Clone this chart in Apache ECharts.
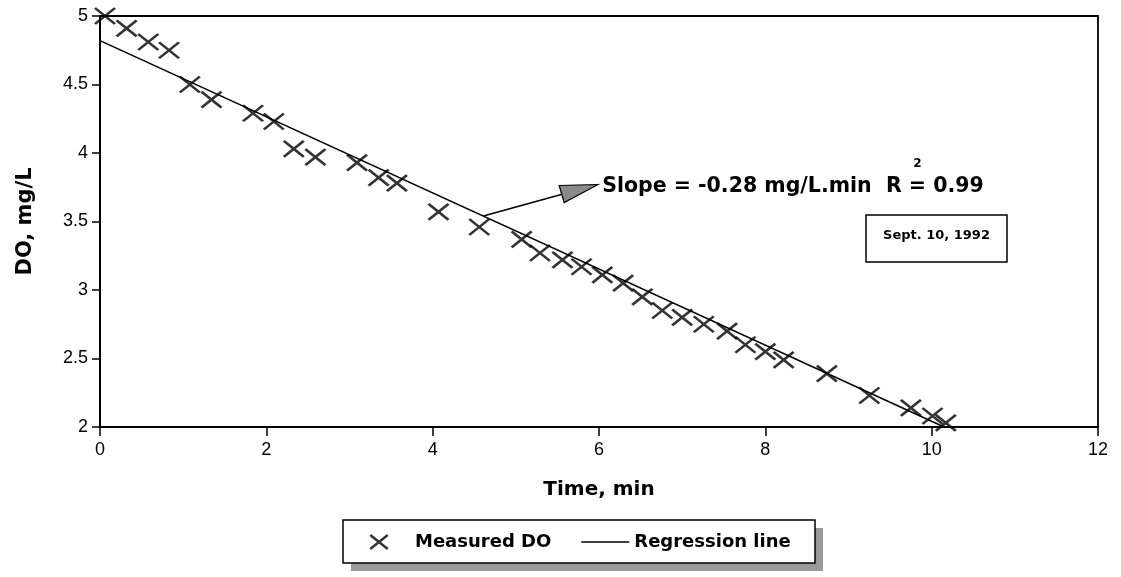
<!DOCTYPE html>
<html>
<head>
<meta charset="utf-8">
<script src="https://cdn.jsdelivr.net/npm/echarts@6/dist/echarts.min.js"></script>
<style>
  html, body { margin: 0; padding: 0; background: #fff; }
  #chart { width: 1121px; height: 577px; }
</style>
</head>
<body>
<div id="chart"></div>
<script>
// measured dissolved oxygen, Sept. 10, 1992
const timeMin = [0.06, 0.32, 0.58, 0.83, 1.08, 1.34, 1.84, 2.09, 2.33, 2.59, 3.09, 3.35, 3.57,
  4.07, 4.56, 5.07, 5.29, 5.56, 5.79, 6.04, 6.29, 6.52, 6.76, 7.0, 7.26, 7.54, 7.76, 8.0,
  8.22, 8.74, 9.25, 9.75, 10.01, 10.17];
const measuredDO = [5.0, 4.91, 4.81, 4.75, 4.5, 4.39, 4.29, 4.23, 4.03, 3.97, 3.93, 3.82, 3.78,
  3.57, 3.46, 3.37, 3.27, 3.22, 3.17, 3.11, 3.05, 2.95, 2.85, 2.8, 2.75, 2.7, 2.6, 2.55,
  2.49, 2.39, 2.23, 2.14, 2.08, 2.03];
// regression line end points
const regTime = [0, 10.15];
const regDO = [4.82, 2.0];

const chart = echarts.init(document.getElementById('chart'));
const FONT = '"DejaVu Sans", sans-serif';
const crossPath = 'path://M0,0L20,16M20,0L0,16';
const linePath = 'path://M0,0L48,0L48,1.5L0,1.5Z';

const option = {
  animation: false,
  grid: {
    left: 100, right: 23, top: 16, bottom: 150,
    show: true, borderColor: '#000', borderWidth: 1.8
  },
  xAxis: {
    type: 'value', min: 0, max: 12, interval: 2,
    name: 'Time, min', nameLocation: 'middle', nameGap: 53,
    nameTextStyle: { fontFamily: FONT, fontWeight: 'bold', fontSize: 20, color: '#000' },
    axisLine: { lineStyle: { color: '#000', width: 2 } },
    axisTick: { length: 9, lineStyle: { color: '#000', width: 1.5 } },
    axisLabel: { margin: 14, fontFamily: '"Liberation Sans", Arial', fontSize: 18, color: '#000' },
    splitLine: { show: false }
  },
  yAxis: {
    type: 'value', min: 2, max: 5, interval: 0.5,
    name: 'DO, mg/L', nameLocation: 'middle', nameGap: 64,
    nameTextStyle: { fontFamily: FONT, fontWeight: 'bold', fontSize: 21, color: '#000' },
    axisLine: { lineStyle: { color: '#000', width: 2 } },
    axisTick: { length: 8, lineStyle: { color: '#000', width: 1.5 } },
    axisLabel: { margin: 12, fontFamily: '"Liberation Sans", Arial', fontSize: 18, color: '#000' },
    splitLine: { show: false }
  },
  legend: {
    left: 343, top: 520,
    orient: 'horizontal',
    padding: [13, 20, 12, 26],
    itemGap: 30, itemWidth: 48, itemHeight: 14,
    textStyle: {
      fontFamily: FONT, fontWeight: 'bold', fontSize: 18, color: '#000',
      rich: { gap: { width: 7 } }
    },
    formatter: name => (name === 'Measured DO' ? '{gap|}' : '') + name,
    data: [
      { name: 'Measured DO', icon: crossPath,
        itemStyle: { color: 'transparent', borderColor: '#000', borderWidth: 2.5 } },
      { name: 'Regression line', icon: linePath,
        itemStyle: { color: '#000', borderWidth: 0 } }
    ]
  },
  series: [
    {
      name: 'Measured DO', type: 'scatter',
      symbol: crossPath, symbolSize: [20, 16], symbolKeepAspect: false,
      itemStyle: { color: 'transparent', borderColor: '#000', borderWidth: 2.6 },
      data: timeMin.map((t, i) => [t, measuredDO[i]]),
      z: 3
    },
    {
      name: 'Regression line', type: 'line',
      symbol: 'none',
      itemStyle: { color: '#000' },
      lineStyle: { color: '#000', width: 1.5 },
      data: regTime.map((t, i) => [t, regDO[i]]),
      z: 2
    }
  ]
};
chart.setOption(option);

// annotation: arrow + slope text, date box, legend frame with shadow
const ctx = document.createElement('canvas').getContext('2d');
const annFont = 'bold 20.5px "DejaVu Sans"';
ctx.font = annFont;
const tip = chart.convertToPixel({ gridIndex: 0 }, [5.99, 3.77]);
const foot = chart.convertToPixel({ gridIndex: 0 }, [4.61, 3.54]);
const s1 = 'Slope = -0.28 mg/L.min  R ';
const textX = tip[0] + 4;
const supX = textX + ctx.measureText(s1).width + ctx.measureText('=').width / 2;

chart.setOption({
  graphic: [
    { type: 'rect', z: -2, shape: { x: 351, y: 528, width: 472, height: 43 },
      style: { fill: '#9a9a9a' } },
    { type: 'rect', z: -1, shape: { x: 343, y: 520, width: 472, height: 43 },
      style: { fill: '#fff', stroke: '#000', lineWidth: 1.5 } },
    { type: 'line', shape: { x1: foot[0], y1: foot[1], x2: tip[0] - 37, y2: tip[1] + 10 },
      style: { stroke: '#000', lineWidth: 1.5 } },
    { type: 'polygon',
      shape: { points: [[tip[0], tip[1]], [tip[0] - 39, tip[1] + 1], [tip[0] - 34, tip[1] + 18]] },
      style: { fill: '#8a8a8a', stroke: '#000', lineWidth: 1.2 } },
    { type: 'text', x: textX, y: tip[1] + 2,
      style: { text: s1 + '= 0.99', font: annFont, fill: '#000', textVerticalAlign: 'middle' } },
    { type: 'text', x: supX, y: tip[1] - 21,
      style: { text: '2', font: 'bold 12px "DejaVu Sans"', fill: '#000',
        textAlign: 'center', textVerticalAlign: 'middle' } },
    { type: 'rect', shape: { x: 866, y: 215, width: 141, height: 47 },
      style: { fill: '#fff', stroke: '#000', lineWidth: 1.5 } },
    { type: 'text', x: 936.5, y: 236,
      style: { text: 'Sept. 10, 1992', font: 'bold 13px "DejaVu Sans"', fill: '#000',
        textAlign: 'center', textVerticalAlign: 'middle' } }
  ]
});
</script>
</body>
</html>
